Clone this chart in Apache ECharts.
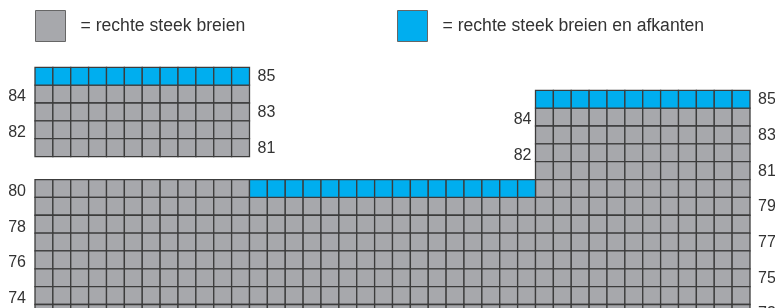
<!DOCTYPE html>
<html>
<head>
<meta charset="utf-8">
<script src="https://cdn.jsdelivr.net/npm/echarts@6.0.0/dist/echarts.min.js"></script>
<style>
  html, body { margin: 0; background: #fff; }
  #chart { width: 775px; height: 308px; }
</style>
</head>
<body>
<div id="chart"></div>
<script>
// Knitting chart: top of the piece, shoulders and neck cast-off.
const KNIT = '= rechte steek breien';
const CAST_OFF = '= rechte steek breien en afkanten';

// left shoulder, drawn detached above the body
const shoulderRows = [85, 84, 83, 82, 81];
const shoulderCols = 12;
const shoulderCastOffRow = 85;

// body rows from the top down, with the first stitch of each row
const bodyRows = [85, 84, 83, 82, 81, 80, 79, 78, 77, 76, 75, 74, 73, 72];
const bodyFirstCol = [29, 29, 29, 29, 29, 1, 1, 1, 1, 1, 1, 1, 1, 1];
const bodyCols = 40;
// cast-off runs: [row, first col, last col]
const bodyCastOff = [[80, 13, 28], [85, 29, 40]];

const GREY = '#a7a8ac';
const BLUE = '#00aeef';
const LINE = '#3c3c3c';
const INK = '#333333';
const FONT = '"Liberation Sans", Arial, sans-serif';

const isCastOff = (row, col) =>
  bodyCastOff.some(([r, a, b]) => r === row && col >= a && col <= b);

const shoulderKnit = [], shoulderOff = [], bodyKnit = [], bodyOff = [];
const shoulderLabels = [], bodyLabels = [];   // [col, row, side] side -1 left / 1 right

shoulderRows.forEach(row => {
  for (let c = 1; c <= shoulderCols; c++) {
    (row === shoulderCastOffRow ? shoulderOff : shoulderKnit).push([c, row]);
  }
  // even rows are read from the left, odd rows from the right
  shoulderLabels.push(row % 2 ? [shoulderCols, row, 1] : [1, row, -1]);
});

bodyRows.forEach((row, i) => {
  for (let c = bodyFirstCol[i]; c <= bodyCols; c++) {
    (isCastOff(row, c) ? bodyOff : bodyKnit).push([c, row]);
  }
  bodyLabels.push(row % 2 ? [bodyCols, row, 1] : [bodyFirstCol[i], row, -1]);
});

const renderCell = (params, api) => {
  const p = api.coord([api.value(0) - 0.5, api.value(1) + 0.5]);
  const s = api.size([1, 1]);
  return {
    type: 'rect',
    shape: { x: p[0], y: p[1], width: s[0], height: s[1] },
    style: { fill: api.visual('color'), stroke: LINE, lineWidth: 1.3 },
  };
};

const renderLabel = (params, api) => {
  const side = api.value(2);
  const col = api.value(0);
  const p = api.coord([col + side * 0.5, api.value(1)]);
  // left-hand numbers sit a little low; the outer edge has a wider margin
  const gap = side > 0 ? 8 : (col === 1 ? 9 : 4);
  return {
    type: 'text',
    x: p[0] + side * gap,
    y: p[1] + (side > 0 ? 0.5 : 3),
    style: {
      text: String(api.value(1)),
      fill: INK,
      font: '16px ' + FONT,
      align: side > 0 ? 'left' : 'right',
      verticalAlign: 'middle',
    },
  };
};

const cells = (name, color, idx, data) => ({
  type: 'custom', name, xAxisIndex: idx, yAxisIndex: idx, clip: false, silent: true,
  itemStyle: { color }, renderItem: renderCell, data,
});

const labels = (idx, data) => ({
  type: 'custom', xAxisIndex: idx, yAxisIndex: idx, clip: false, silent: true,
  renderItem: renderLabel, data,
});

const CELL_W = 715 / 40;
const CELL_H = 17.85;

const legendCommon = {
  top: 10, padding: 0, icon: 'rect', itemWidth: 30, itemHeight: 31, selectedMode: false,
  itemStyle: { borderColor: '#666', borderWidth: 1 },
  textStyle: { fontSize: 17.6, color: INK, fontFamily: FONT, padding: [0, 0, 0, 10] },
};

const chart = echarts.init(document.getElementById('chart'), null, { renderer: 'canvas' });
chart.setOption({
  animation: false,
  backgroundColor: '#fff',
  legend: [
    { ...legendCommon, left: 35, data: [KNIT] },
    { ...legendCommon, left: 397, data: [CAST_OFF] },
  ],
  grid: [
    { left: 35, top: 67.3, width: CELL_W * shoulderCols, height: CELL_H * shoulderRows.length,
      outerBoundsMode: 'none' },
    { left: 35, top: 90.3, width: CELL_W * bodyCols, height: CELL_H * bodyRows.length,
      outerBoundsMode: 'none' },
  ],
  xAxis: [
    { type: 'value', gridIndex: 0, min: 0.5, max: shoulderCols + 0.5, show: false },
    { type: 'value', gridIndex: 1, min: 0.5, max: bodyCols + 0.5, show: false },
  ],
  yAxis: [
    { type: 'value', gridIndex: 0, min: 80.5, max: 85.5, show: false },
    { type: 'value', gridIndex: 1, min: 71.5, max: 85.5, show: false },
  ],
  series: [
    cells(KNIT, GREY, 0, shoulderKnit),
    cells(CAST_OFF, BLUE, 0, shoulderOff),
    cells(KNIT, GREY, 1, bodyKnit),
    cells(CAST_OFF, BLUE, 1, bodyOff),
    labels(0, shoulderLabels),
    labels(1, bodyLabels),
  ],
});
</script>
</body>
</html>
